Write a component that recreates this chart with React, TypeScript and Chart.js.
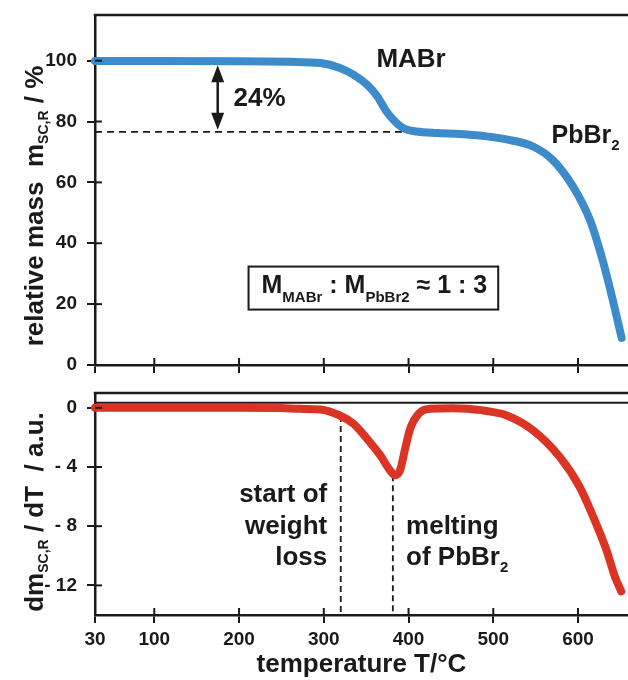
import React, { useEffect, useRef } from 'react';
import { Chart, registerables } from 'chart.js';

Chart.register(...registerables);

// ---------- data ----------
const xTicks = [30, 100, 200, 300, 400, 500, 600];

const massTemps = [30, 100, 200, 260, 296, 319, 335, 351, 363, 374, 384, 394, 410, 433, 461, 490, 520, 547, 570, 594, 614, 629, 641, 651.5];
const massValues = [99.9, 99.9, 99.8, 99.6, 99.2, 97.6, 95.4, 92.1, 88.3, 83.3, 80.0, 77.8, 76.7, 76.2, 75.9, 75.2, 73.9, 71.8, 67.4, 58.7, 47.7, 34.5, 21.4, 8.9];
const massTicks = [0, 20, 40, 60, 80, 100];

const derivTemps = [30, 100, 200, 250, 272, 296, 319, 335, 351, 366.5, 378, 384, 390, 396, 402, 412, 425, 453, 469, 490, 516, 547, 578.5, 602, 618, 633.5, 643.5, 651];
const derivValues = [0, 0, 0, -0.02, -0.07, -0.11, -0.52, -1.08, -2.09, -3.2, -4.22, -4.55, -4.22, -2.76, -1.41, -0.4, -0.07, -0.03, -0.07, -0.2, -0.52, -1.53, -3.33, -5.35, -7.37, -9.6, -11.4, -12.4];
const derivTicks = [-12, -8, -4, 0];

const plateauLevel = 76.6;
const plateauRange = [30, 398];
const arrowTemp = 174.8;
const arrowRange = [98.5, 77.3];
const derivBaseline = 0.34;
const onsetTemp = 320;
const onsetValue = -0.55;
const meltTemp = 381.5;
const meltValue = -4.55;

// ---------- styles ----------
const FONT = "'Liberation Sans', Arial, Helvetica, sans-serif";
const INK = '#1a1a1a';
const BLUE = '#3d8bcb';
const RED = '#dc3424';

type Part = [string, number, number];

function richText(ctx: CanvasRenderingContext2D, parts: Part[], x: number, y: number, align: 'left' | 'center' | 'right') {
  let w = 0;
  for (const [t, size] of parts) {
    ctx.font = `bold ${size}px ${FONT}`;
    w += ctx.measureText(t).width;
  }
  let cx = align === 'left' ? x : align === 'center' ? x - w / 2 : x - w;
  const start = cx;
  ctx.textBaseline = 'alphabetic';
  ctx.textAlign = 'left';
  ctx.fillStyle = INK;
  for (const [t, size, dy] of parts) {
    ctx.font = `bold ${size}px ${FONT}`;
    ctx.fillText(t, cx, y + dy);
    cx += ctx.measureText(t).width;
  }
  return { left: start, width: w };
}

function verticalTitle(ctx: CanvasRenderingContext2D, parts: Part[], baselineX: number, centerY: number) {
  ctx.save();
  ctx.translate(baselineX, centerY);
  ctx.rotate(-Math.PI / 2);
  richText(ctx, parts, 0, 0, 'center');
  ctx.restore();
}

function line(ctx: CanvasRenderingContext2D, x1: number, y1: number, x2: number, y2: number) {
  ctx.beginPath();
  ctx.moveTo(x1, y1);
  ctx.lineTo(x2, y2);
  ctx.stroke();
}

const frame = {
  id: 'frame',
  afterDraw(chart: any) {
    const { ctx, chartArea, scales } = chart;
    const { left, right, top, bottom } = chartArea;
    ctx.save();
    ctx.strokeStyle = INK;
    ctx.lineWidth = 2;
    for (const t of scales.x.ticks) {
      const p = scales.x.getPixelForValue(t.value);
      if (p - left < 3) continue;
      line(ctx, p, bottom, p, bottom - 7);
    }
    for (const t of scales.y.ticks) {
      const p = scales.y.getPixelForValue(t.value);
      line(ctx, left, p, left + 7, p);
    }
    ctx.lineWidth = 2.5;
    line(ctx, left - 1.25, top, right, top);
    ctx.restore();
  },
};

function zeroPad(s: any) {
  s.paddingTop = 0;
  s.paddingBottom = 0;
  s.paddingLeft = 0;
  s.paddingRight = 0;
}

function xScale(showLabels: boolean, height: number) {
  return {
    type: 'linear',
    min: 30,
    max: 659,
    afterBuildTicks: (s: any) => {
      s.ticks = xTicks.map((v) => ({ value: v }));
    },
    afterFit: (s: any) => {
      s.height = height;
      zeroPad(s);
    },
    grid: { drawOnChartArea: false, drawTicks: true, tickLength: 8, color: INK, lineWidth: 2 },
    border: { display: true, color: INK, width: 2.5 },
    ticks: {
      display: showLabels,
      autoSkip: false,
      maxRotation: 0,
      padding: 5,
      color: INK,
      font: { family: FONT, size: 19, weight: 'bold' },
      callback: (v: number) => String(v),
    },
    title: showLabels
      ? {
          display: true,
          text: 'temperature T/°C',
          color: INK,
          font: { family: FONT, size: 26, weight: 'bold' },
          padding: { top: 0, bottom: 0 },
        }
      : { display: false },
  };
}

function yScale(min: number, max: number, ticks: number[], fmt: (v: number) => string) {
  return {
    type: 'linear',
    min,
    max,
    afterBuildTicks: (s: any) => {
      s.ticks = ticks.map((v) => ({ value: v }));
    },
    afterFit: (s: any) => {
      s.width = 95;
      zeroPad(s);
    },
    grid: { drawOnChartArea: false, drawTicks: true, tickLength: 8, color: INK, lineWidth: 2 },
    border: { display: true, color: INK, width: 2.5 },
    ticks: {
      autoSkip: false,
      padding: 10,
      color: INK,
      font: { family: FONT, size: 19, weight: 'bold' },
      callback: (v: number) => fmt(v),
    },
  };
}

const pts = (xs: number[], ys: number[]) => xs.map((x, i) => ({ x, y: ys[i] }));

function topConfig(): any {
  const annotations = {
    id: 'topNotes',
    afterDraw(chart: any) {
      const { ctx, scales } = chart;
      const px = (v: number) => scales.x.getPixelForValue(v);
      const py = (v: number) => scales.y.getPixelForValue(v);
      ctx.save();
      // arrow
      const ax = px(arrowTemp);
      const y1 = py(arrowRange[0]);
      const y2 = py(arrowRange[1]);
      ctx.strokeStyle = INK;
      ctx.fillStyle = INK;
      ctx.lineWidth = 2.5;
      line(ctx, ax, y1 + 10, ax, y2 - 10);
      ctx.beginPath();
      ctx.moveTo(ax, y1);
      ctx.lineTo(ax - 6.5, y1 + 17);
      ctx.lineTo(ax + 6.5, y1 + 17);
      ctx.closePath();
      ctx.fill();
      ctx.beginPath();
      ctx.moveTo(ax, y2);
      ctx.lineTo(ax - 6.5, y2 - 17);
      ctx.lineTo(ax + 6.5, y2 - 17);
      ctx.closePath();
      ctx.fill();

      richText(ctx, [['24%', 26, 0]], px(193.4), py(85.2), 'left');
      richText(ctx, [['MABr', 26, 0]], px(403), py(98.0), 'center');
      richText(ctx, [['PbBr', 25, 0], ['2', 15, 7]], px(568.7), py(73.0), 'left');

      // ratio box
      const bx = px(359.7);
      const by = py(23.8);
      const r = richText(
        ctx,
        [
          ['M', 25, 0],
          ['MABr', 15, 9],
          [' : M', 25, 0],
          ['PbBr2', 15, 9],
          [' ≈ 1 : 3', 25, 0],
        ],
        bx,
        by,
        'center'
      );
      ctx.lineWidth = 2;
      ctx.strokeStyle = INK;
      ctx.strokeRect(r.left - 13, by - 26, r.width + 24, 43);

      verticalTitle(ctx, [['relative mass  m', 26, 0], ['SC,R', 14, 5], [' / %', 26, 0]], 43, 206);
      ctx.restore();
    },
  };
  return {
    type: 'line',
    data: {
      datasets: [
        {
          data: pts(massTemps, massValues),
          borderColor: BLUE,
          borderWidth: 8,
          borderCapStyle: 'round',
          borderJoinStyle: 'round',
          cubicInterpolationMode: 'monotone',
          pointRadius: 0,
          clip: false,
        },
        {
          data: pts(plateauRange, [plateauLevel, plateauLevel]),
          borderColor: INK,
          borderWidth: 1.8,
          borderDash: [7, 5],
          pointRadius: 0,
        },
      ],
    },
    options: {
      responsive: false,
      animation: false,
      devicePixelRatio: 1,
      layout: { padding: { top: 15, left: 0, right: 0, bottom: 0 } },
      plugins: { legend: { display: false }, tooltip: { enabled: false } },
      scales: {
        x: xScale(false, 680 - 365),
        y: yScale(0, 115, massTicks, (v) => String(v)),
      },
    },
    plugins: [frame, annotations],
  };
}

function bottomConfig(): any {
  const annotations = {
    id: 'bottomNotes',
    afterDraw(chart: any) {
      const { ctx, scales } = chart;
      const px = (v: number) => scales.x.getPixelForValue(v);
      const py = (v: number) => scales.y.getPixelForValue(v);
      ctx.save();
      richText(ctx, [['start of', 26, 0]], px(304.1), py(-6.38), 'right');
      richText(ctx, [['weight', 26, 0]], px(304.1), py(-8.53), 'right');
      richText(ctx, [['loss', 26, 0]], px(304.1), py(-10.62), 'right');
      richText(ctx, [['melting', 26, 0]], px(397.1), py(-8.5), 'left');
      richText(ctx, [['of PbBr', 26, 0], ['2', 15, 7]], px(397.1), py(-10.59), 'left');
      verticalTitle(ctx, [['dm', 26, 0], ['SC,R', 14, 5], [' / dT  / a.u.', 26, 0]], 43, 512);
      ctx.restore();
    },
  };
  const dashed = (data: any) => ({
    data,
    borderColor: INK,
    borderWidth: 1.8,
    borderDash: [6, 4],
    pointRadius: 0,
  });
  return {
    type: 'line',
    data: {
      datasets: [
        {
          data: pts(derivTemps, derivValues),
          borderColor: RED,
          borderWidth: 8,
          borderCapStyle: 'round',
          borderJoinStyle: 'round',
          cubicInterpolationMode: 'monotone',
          pointRadius: 0,
          clip: false,
        },
        dashed(pts([onsetTemp, onsetTemp], [onsetValue, -14])),
        dashed(pts([meltTemp, meltTemp], [meltValue, -14])),
        {
          data: pts([30, 659], [derivBaseline, derivBaseline]),
          borderColor: INK,
          borderWidth: 2,
          pointRadius: 0,
        },
      ],
    },
    options: {
      responsive: false,
      animation: false,
      devicePixelRatio: 1,
      layout: { padding: { top: 393, left: 0, right: 0, bottom: 0 } },
      plugins: { legend: { display: false }, tooltip: { enabled: false } },
      scales: {
        x: xScale(true, 680 - 615),
        y: yScale(-14, 1, derivTicks, (v) => (v === 0 ? '0' : `- ${Math.abs(v)}`)),
      },
    },
    plugins: [frame, annotations],
  };
}

export default function App() {
  const topRef = useRef<HTMLCanvasElement>(null);
  const botRef = useRef<HTMLCanvasElement>(null);
  useEffect(() => {
    document.body.style.margin = '0';
    const top = new Chart(topRef.current as HTMLCanvasElement, topConfig());
    const bot = new Chart(botRef.current as HTMLCanvasElement, bottomConfig());
    return () => {
      top.destroy();
      bot.destroy();
    };
  }, []);
  const cs: React.CSSProperties = { position: 'absolute', left: 0, top: 0, width: 628, height: 680 };
  return (
    <div style={{ position: 'relative', width: 628, height: 680, overflow: 'hidden', background: '#fff' }}>
      <canvas ref={botRef} width={628} height={680} style={cs} />
      <canvas ref={topRef} width={628} height={680} style={cs} />
    </div>
  );
}
